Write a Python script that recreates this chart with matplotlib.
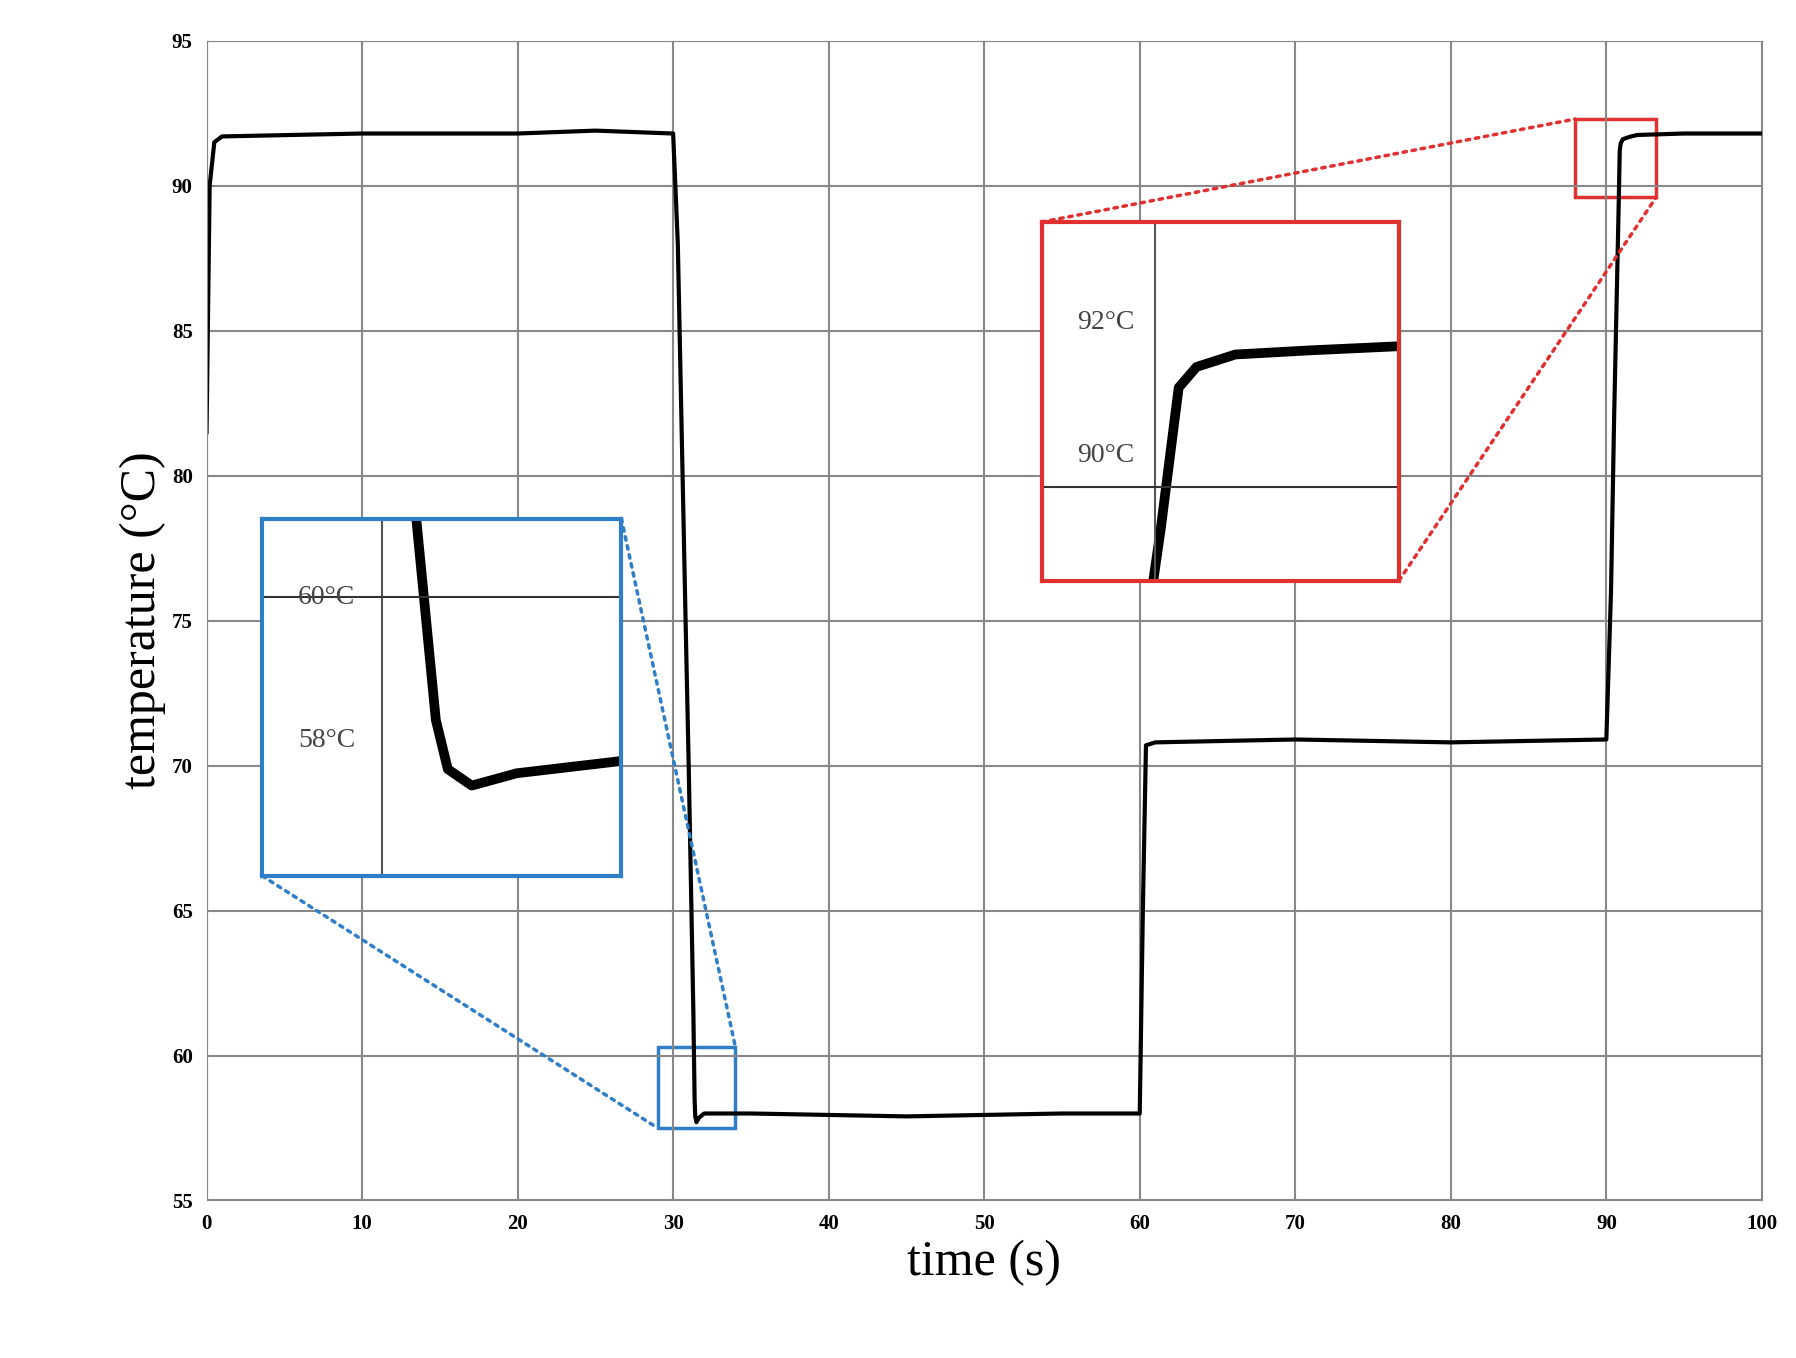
import matplotlib
matplotlib.use("Agg")
import matplotlib.pyplot as plt
from matplotlib.patches import Rectangle, ConnectionPatch

plt.rcParams['font.family'] = ['Liberation Serif', 'DejaVu Serif']

time_s = [0, 0.2, 0.5, 1, 10, 20, 25, 30, 30.3, 30.8, 31.0, 31.3, 31.38, 31.42, 31.5, 31.65, 32,
          35, 45, 55, 60, 60.2, 60.4, 61, 70, 80, 90, 90.3, 90.5, 90.8, 90.86, 90.92, 91.05,
          91.3, 91.6, 92, 95, 100]
temp_c = [81.5, 90, 91.5, 91.7, 91.8, 91.8, 91.9, 91.8, 88, 75, 70, 61.5, 58.5, 57.9, 57.7, 57.85,
          58.0, 58.0, 57.9, 58.0, 58.0, 65, 70.7, 70.8, 70.9, 70.8, 70.9, 76, 82, 89.5, 91.2,
          91.45, 91.6, 91.65, 91.7, 91.75, 91.8, 91.8]

xticks = [0, 10, 20, 30, 40, 50, 60, 70, 80, 90, 100]
xtick_labels = ["0", "10", "20", "30", "40", "50", "60", "70", "80", "90", "100"]
yticks = [55, 60, 65, 70, 75, 80, 85, 90, 95]

fig = plt.figure(figsize=(17.96, 13.58), dpi=100)
ax = fig.add_axes([0.115, 0.116, 0.866, 0.854])
ax.plot(time_s, temp_c, color="black", lw=3)
ax.set_xlim(0, 100); ax.set_ylim(55, 95)
ax.set_xticks(xticks, xtick_labels); ax.set_yticks(yticks)
ax.tick_params(labelsize=15, length=0, pad=10)
for lab in ax.get_xticklabels() + ax.get_yticklabels():
    lab.set_fontweight("bold")
ax.grid(color="#888888", lw=1.5)
for s in ax.spines.values():
    s.set_edgecolor("#888888")
ax.set_xlabel("time (s)", fontsize=36)
ax.set_ylabel("temperature (°C)", fontsize=36)

blue, red = "#2f7fc8", "#e03030"
insets = [
    # position, xlim, ylim, vline, hline, labels, colour, source rect
    ([0.146, 0.355, 0.2, 0.263], (30.8, 32.0), (56.6, 60.95), 31.2, 60,
     [(0.18, 0.78, "60°C"), (0.18, 0.38, "58°C")], blue, (29.0, 57.5, 5.0, 2.8)),
    ([0.58, 0.5725, 0.199, 0.264], (90.4, 91.6), (88.87, 93.2), 90.78, 90,
     [(0.18, 0.72, "92°C"), (0.18, 0.35, "90°C")], red, (88.0, 89.6, 5.2, 2.7)),
]
for pos, xl, yl, vx, hy, labels, col, (rx, ry, rw, rh) in insets:
    ia = fig.add_axes(pos)
    ia.plot(time_s, temp_c, color="black", lw=7)
    ia.set_xlim(*xl); ia.set_ylim(*yl)
    ia.axvline(vx, color="#555555", lw=1.5); ia.axhline(hy, color="#333333", lw=1.5)
    ia.set_xticks([]); ia.set_yticks([])
    for s in ia.spines.values():
        s.set_edgecolor(col); s.set_linewidth(3)
    for tx, ty, t in labels:
        ia.text(tx, ty, t, transform=ia.transAxes, fontsize=20, color="#444444",
                ha="center", va="center")
    ax.add_patch(Rectangle((rx, ry), rw, rh, fill=False, edgecolor=col, lw=2.5))
    if col == blue:
        pairs = [((1, 1), (rx + rw, ry + rh)), ((0, 0), (rx, ry))]
    else:
        pairs = [((0, 1), (rx, ry + rh)), ((1, 0), (rx + rw, ry))]
    for a, b in pairs:
        fig.add_artist(ConnectionPatch(xyA=a, coordsA=ia.transAxes, xyB=b, coordsB=ax.transData,
                                       color=col, ls=":", lw=2.5))

fig.savefig("out.png", dpi=100)
